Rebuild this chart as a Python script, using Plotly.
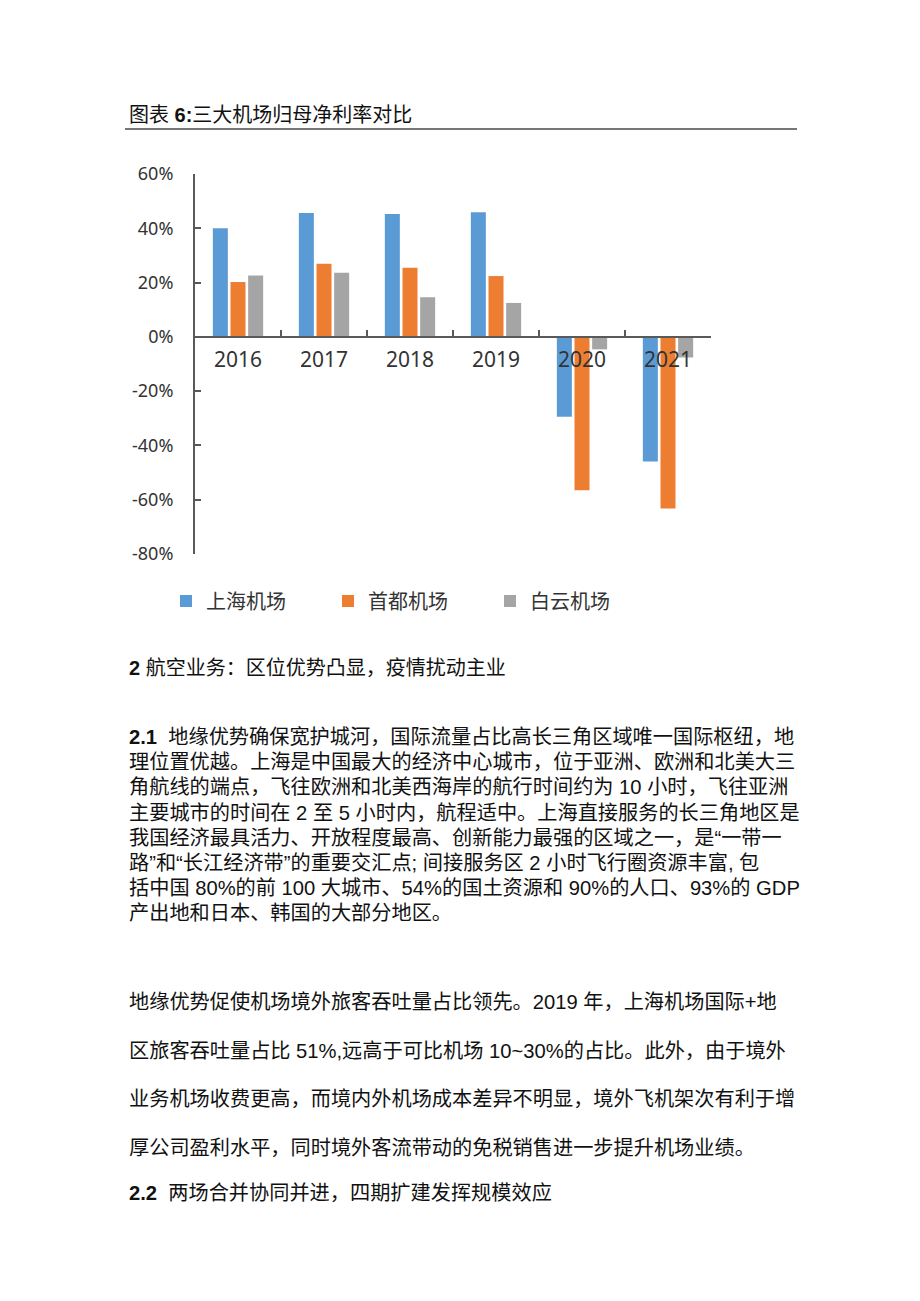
import plotly.graph_objects as go

# ---- data ----
years = ["2016", "2017", "2018", "2019", "2020", "2021"]
shanghai = [40.0, 45.6, 45.3, 45.9, -29.4, -45.9]
capital = [20.2, 26.9, 25.5, 22.4, -56.5, -63.2]
baiyun = [22.6, 23.6, 14.6, 12.5, -4.6, -7.6]
series_names = ["上海机场", "首都机场", "白云机场"]
colors = ["#5B9BD5", "#ED7D31", "#A5A5A5"]
y_ticks = [60, 40, 20, 0, -20, -40, -60, -80]
y_tick_text = ["60%", "40%", "20%", "0%", "-20%", "-40%", "-60%", "-80%"]

title_text = "图表 <b>6:</b>三大机场归母净利率对比"
heading_text = "<b>2</b> 航空业务：区位优势凸显，疫情扰动主业"
para1 = [
    "<b>2.1</b>  地缘优势确保宽护城河，国际流量占比高长三角区域唯一国际枢纽，地",
    "理位置优越。上海是中国最大的经济中心城市，位于亚洲、欧洲和北美大三",
    "角航线的端点，飞往欧洲和北美西海岸的航行时间约为 10 小时，飞往亚洲",
    "主要城市的时间在 2 至 5 小时内，航程适中。上海直接服务的长三角地区是",
    "我国经济最具活力、开放程度最高、创新能力最强的区域之一，是“一带一",
    "路”和“长江经济带”的重要交汇点; 间接服务区 2 小时飞行圈资源丰富, 包",
    "括中国 80%的前 100 大城市、54%的国土资源和 90%的人口、93%的 GDP",
    "产出地和日本、韩国的大部分地区。",
]
para2 = [
    "地缘优势促使机场境外旅客吞吐量占比领先。2019 年，上海机场国际+地",
    "区旅客吞吐量占比 51%,远高于可比机场 10~30%的占比。此外，由于境外",
    "业务机场收费更高，而境内外机场成本差异不明显，境外飞机架次有利于增",
    "厚公司盈利水平，同时境外客流带动的免税销售进一步提升机场业绩。",
]
heading2_text = "<b>2.2</b>  两场合并协同并进，四期扩建发挥规模效应"

# ---- layout geometry (pixels, page coords; body margin of 8px compensated) ----
W, H = 920, 1301
OFF = 8
L, R, T, B = 195 - OFF, 711 - OFF, 174 - OFF, 554 - OFF


def px(x):
    return (x - OFF - L) / (R - L)


def py(y):
    return (B - (y - OFF)) / (B - T)


fig = go.Figure()
for name, vals, c in zip(series_names, [shanghai, capital, baiyun], colors):
    fig.add_trace(go.Bar(x=years, y=vals, name=name, marker=dict(color=c, line=dict(width=0))))

TXT_FONT = "Liberation Sans, Noto Sans CJK SC, sans-serif"
ann = []


def add_text(x, y, text, size):
    ann.append(dict(x=px(x), y=py(y), xref="paper", yref="paper", text=text, showarrow=False,
                    xanchor="left", yanchor="middle",
                    font=dict(family=TXT_FONT, size=size, color="#111")))


add_text(127, 115, title_text, 20)
add_text(127, 668, heading_text, 20)
for i, line in enumerate(para1):
    add_text(127, 737 + i * 25.2, line, 20.2)
for i, line in enumerate(para2):
    add_text(127, 1002 + i * 48.5, line, 20.2)
add_text(127, 1193, heading2_text, 20.2)

fig.update_layout(
    width=W, height=H,
    margin=dict(l=L, r=W - R, t=T, b=H - B, pad=0),
    paper_bgcolor="white", plot_bgcolor="white",
    barmode="group", bargap=0.384, bargroupgap=0.15,
    font=dict(family="Noto Sans, sans-serif", color="#333"),
    xaxis=dict(type="category", anchor="free", position=80 / 140,
               showline=True, linecolor="#595959", linewidth=2,
               ticks="inside", ticklen=6, tickwidth=1.5, tickcolor="#595959",
               tickson="boundaries", showgrid=False, zeroline=False,
               tickfont=dict(size=21, color="#333"), ticklabelstandoff=4),
    yaxis=dict(range=[-80, 60], tickvals=y_ticks, ticktext=y_tick_text,
               showline=True, linecolor="#595959", linewidth=2,
               ticks="inside", ticklen=6, tickwidth=1.5, tickcolor="#595959",
               showgrid=False, zeroline=False,
               tickfont=dict(size=18, color="#333"), ticklabelstandoff=16),
    legend=dict(orientation="h", x=px(166), y=py(601), xanchor="left", yanchor="middle",
                entrywidth=117, entrywidthmode="pixels",
                font=dict(family="Noto Sans CJK SC", size=20, color="#333"),
                bgcolor="rgba(0,0,0,0)"),
    showlegend=True,
    annotations=ann,
    shapes=[dict(type="line", xref="paper", yref="paper", x0=px(125), x1=px(797),
                 y0=py(129), y1=py(129), line=dict(color="#777", width=2))],
)

fig.write_html("out.html")
